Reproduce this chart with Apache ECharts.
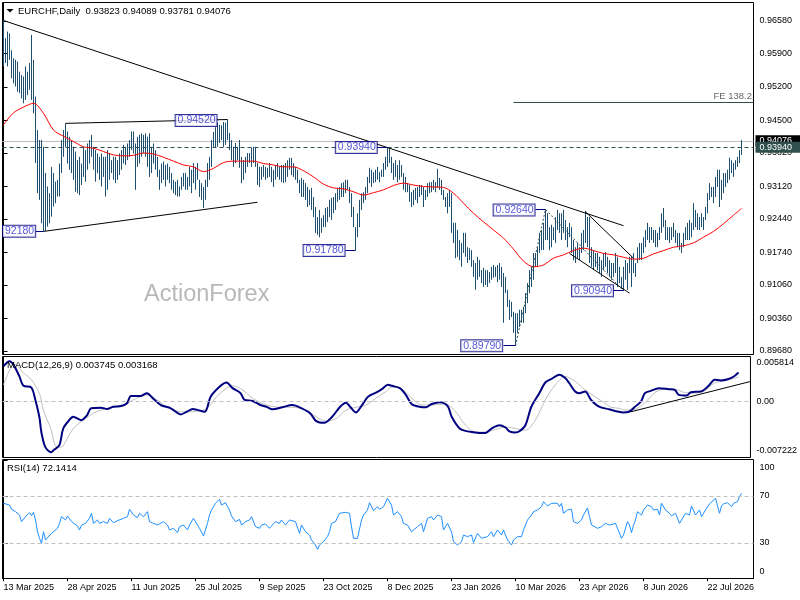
<!DOCTYPE html>
<html><head><meta charset="utf-8">
<script src="https://cdn.jsdelivr.net/npm/echarts@6/dist/echarts.min.js"></script>
<style>html,body{margin:0;padding:0;background:#fff}#c{width:800px;height:600px}</style>
</head><body><div id="c"></div>
<script>
// ---------- DATA (prices in 0.0001 units) ----------
const symbolName = 'EURCHF,Daily';
const lastOHLC = [0.93823, 0.94089, 0.93781, 0.94076];
const macdLast = [0.003745, 0.003168];
const rsiLast = 72.1414;

const barHigh = [
9659,9622,9636,9632,9597,9580,9577,9573,9552,9545,
9542,9563,9552,9570,9629,9577,9500,9430,9409,9409,
9395,9340,9312,9298,9353,9340,9322,9326,9360,9409,
9430,9444,9427,9416,9409,9395,9385,9367,9374,9360,
9395,9388,9402,9409,9420,9395,9388,9381,9374,9381,
9374,9374,9388,9381,9367,9374,9374,9367,9381,9388,
9399,9395,9402,9409,9427,9427,9402,9416,9420,9423,
9420,9423,9416,9423,9395,9402,9388,9374,9347,9360,
9364,9357,9360,9353,9340,9326,9322,9326,9312,9332,
9340,9340,9332,9353,9347,9361,9353,9361,9326,9319,
9311,9326,9361,9374,9409,9426,9436,9445,9441,9440,
9447,9445,9452,9424,9409,9395,9403,9395,9409,9374,
9367,9374,9382,9382,9393,9395,9395,9361,9353,9353,
9357,9353,9351,9361,9353,9347,9357,9361,9353,9357,
9357,9361,9367,9372,9372,9361,9353,9347,9326,9330,
9326,9319,9311,9305,9309,9290,9269,9248,9263,9246,
9252,9267,9269,9284,9288,9290,9298,9309,9311,9319,
9321,9326,9326,9311,9298,9269,9227,9256,9284,9298,
9300,9311,9332,9351,9347,9342,9347,9353,9342,9347,
9361,9374,9394,9393,9374,9361,9367,9357,9367,9357,
9340,9332,9319,9315,9300,9305,9309,9311,9315,9315,
9311,9305,9319,9321,9321,9326,9321,9349,9330,9326,
9305,9290,9298,9305,9298,9236,9236,9221,9200,9194,
9215,9215,9185,9183,9179,9158,9152,9165,9158,9137,
9142,9137,9137,9133,9144,9148,9144,9148,9152,9144,
9131,9123,9096,9075,9071,9050,9047,9047,9054,9054,
9060,9089,9110,9137,9144,9173,9173,9185,9215,9221,
9236,9264,9256,9227,9232,9227,9248,9263,9256,9256,
9263,9242,9227,9236,9227,9200,9185,9194,9185,9215,
9221,9261,9248,9248,9185,9179,9173,9173,9165,9158,
9173,9175,9165,9158,9152,9152,9173,9165,9144,9123,
9144,9158,9152,9165,9165,9173,9152,9185,9194,9194,
9206,9221,9236,9227,9227,9221,9221,9215,9227,9256,
9267,9242,9227,9227,9227,9236,9221,9215,9215,9194,
9215,9227,9236,9242,9236,9277,9263,9256,9248,9256,
9248,9269,9298,9319,9311,9311,9332,9347,9347,9326,
9340,9340,9347,9372,9367,9361,9367,9374,9388,9408.9];

const barLow = [
9563,9570,9563,9577,9538,9528,9521,9510,9507,9496,
9486,9493,9503,9514,9493,9465,9361,9298,9284,9235,
9218,9219,9228,9235,9249,9270,9277,9291,9291,9340,
9374,9395,9360,9347,9340,9326,9301,9298,9294,9315,
9332,9322,9347,9360,9374,9347,9322,9340,9326,9312,
9332,9291,9305,9326,9340,9326,9319,9326,9336,9347,
9360,9357,9367,9374,9388,9381,9305,9353,9360,9374,
9381,9374,9353,9332,9340,9360,9347,9332,9305,9319,
9326,9312,9326,9319,9305,9298,9294,9291,9291,9305,
9312,9305,9305,9312,9298,9319,9305,9326,9290,9284,
9267,9284,9311,9326,9353,9395,9393,9395,9403,9409,
9395,9399,9409,9388,9367,9353,9361,9367,9351,9319,
9326,9340,9353,9361,9353,9361,9353,9315,9311,9326,
9332,9326,9330,9332,9321,9311,9326,9332,9326,9321,
9319,9321,9332,9347,9336,9332,9326,9319,9298,9290,
9290,9284,9269,9273,9263,9248,9215,9211,9206,9215,
9227,9227,9238,9248,9242,9256,9263,9280,9284,9290,
9290,9298,9305,9277,9248,9227,9178,9206,9227,9263,
9277,9284,9298,9319,9311,9319,9321,9326,9321,9332,
9332,9347,9353,9361,9340,9326,9332,9321,9326,9332,
9305,9300,9300,9280,9269,9273,9284,9277,9290,9294,
9269,9284,9290,9298,9300,9305,9300,9309,9305,9294,
9284,9269,9256,9269,9215,9194,9162,9165,9158,9144,
9173,9165,9152,9158,9144,9123,9096,9117,9123,9110,
9102,9106,9102,9110,9117,9121,9123,9112,9117,9102,
9027,9089,9060,9033,9039,9006,8979,9006,9018,9027,
9027,9047,9068,9089,9102,9117,9144,9144,9173,9179,
9179,9200,9200,9179,9185,9200,9194,9221,9215,9200,
9215,9200,9185,9206,9173,9158,9152,9162,9158,9173,
9179,9194,9185,9152,9144,9137,9144,9137,9131,9123,
9137,9144,9131,9123,9117,9123,9131,9102,9110,9100,
9094,9117,9096,9131,9102,9131,9123,9152,9158,9158,
9173,9185,9200,9194,9200,9194,9185,9185,9200,9215,
9227,9200,9200,9194,9200,9206,9194,9185,9179,9173,
9185,9200,9200,9200,9206,9221,9227,9221,9221,9227,
9221,9242,9256,9284,9290,9277,9290,9311,9269,9284,
9298,9311,9319,9326,9340,9332,9347,9353,9361,9378.1];

// moving average (bar index, price in 0.0001)
const maLine = [[0,9441],[5,9466],[10,9478],[15,9486],[20,9465],[25,9430],[30,9417],[35,9406],[40,9395],[45,9392],[50,9385],[55,9378],[60,9376],[65,9377],[70,9382],[75,9380],[80,9373],[85,9365],[90,9357],[95,9353],[100,9343],[105,9350],[110,9362],[115,9365],[120,9365],[125,9365],[130,9360],[135,9357],[140,9353],[145,9353],[150,9345],[155,9332],[160,9317],[165,9309],[170,9307],[175,9301],[180,9294],[185,9299],[190,9305],[195,9314],[200,9319],[205,9315],[210,9312],[215,9311],[220,9310],[225,9298],[230,9277],[235,9256],[240,9238],[245,9221],[250,9204],[255,9181],[260,9156],[265,9144],[270,9148],[275,9162],[280,9169],[285,9178],[290,9183],[295,9178],[300,9172],[305,9169],[310,9164],[315,9160],[320,9162],[325,9171],[330,9178],[335,9185],[340,9188],[345,9194],[350,9206],[355,9218],[360,9234],[365,9252],[369,9266]];

// MACD main and signal (bar index, value in 0.0001)
const macdMain = [[0,45.5],[3,52.0],[5,47.7],[8,32.4],[10,20.3],[14,18.1],[16,2.0],[18,-19.7],[19,-39.3],[21,-58.8],[24,-65.3],[25,-63.1],[28,-56.6],[30,-34.8],[33,-24.0],[35,-19.7],[39,-24.0],[42,-17.5],[44,-8.7],[49,-7.9],[52,-9.7],[55,-6.7],[59,-5.8],[62,-2.2],[64,7.3],[69,7.3],[72,10.8],[75,4.3],[79,-4.5],[84,-8.7],[89,-16.6],[92,-13.2],[95,-9.7],[101,-13.2],[104,6.3],[109,20.3],[112,24.6],[115,17.3],[119,10.8],[121,2.0],[125,0.7],[129,-4.5],[132,-6.7],[135,-10.0],[140,-7.4],[145,-4.5],[149,-7.9],[154,-15.3],[157,-25.3],[161,-27.5],[165,-19.7],[169,-6.7],[172,-1.5],[174,-6.7],[177,-14.0],[180,-4.5],[183,6.3],[187,11.6],[190,16.0],[193,21.6],[195,20.3],[199,17.3],[202,8.6],[205,-3.5],[209,-6.7],[212,-7.4],[215,-3.2],[219,-0.9],[223,-5.8],[225,-19.7],[229,-34.8],[232,-37.9],[235,-39.3],[239,-40.6],[242,-40.6],[245,-34.8],[249,-30.6],[252,-33.5],[254,-38.4],[257,-40.0],[259,-38.4],[262,-30.6],[265,-6.7],[269,10.8],[272,24.6],[275,29.1],[279,34.6],[282,30.4],[284,23.9],[287,12.9],[289,10.8],[292,12.9],[295,2.0],[299,-6.7],[304,-10.0],[309,-13.2],[311,-14.0],[314,-13.2],[317,-6.7],[320,-0.2],[322,10.8],[325,13.8],[329,17.3],[334,16.0],[337,15.1],[339,8.6],[343,7.7],[345,12.1],[350,12.9],[354,20.3],[357,28.1],[360,27.2],[364,29.1],[367,33.0],[369,37.45]];
const macdSignal = [[0,21.6],[4,45.5],[6,47.7],[10,36.9],[14,28.1],[18,10.8],[20,-11.0],[24,-37.1],[26,-56.6],[29,-58.8],[32,-47.9],[35,-34.8],[40,-24.0],[45,-15.3],[50,-10.0],[55,-7.4],[60,-5.8],[65,2.0],[72,8.6],[77,2.0],[82,-6.7],[89,-13.2],[95,-13.2],[102,-8.7],[107,6.3],[112,17.3],[115,20.3],[120,15.1],[125,4.3],[132,-4.5],[139,-7.4],[145,-7.4],[152,-11.0],[157,-19.7],[162,-25.3],[167,-21.8],[172,-11.0],[177,-7.4],[182,-4.5],[187,4.3],[192,12.9],[195,18.6],[200,16.0],[205,4.3],[210,-4.5],[215,-4.5],[222,-3.2],[227,-13.2],[232,-30.6],[237,-39.3],[242,-39.3],[247,-36.1],[252,-32.8],[257,-34.8],[262,-37.1],[267,-24.0],[272,2.0],[277,21.6],[282,32.4],[287,26.0],[292,15.1],[297,6.3],[302,-2.2],[305,-7.4],[309,-8.7],[312,-11.0],[317,-10.0],[322,-1.5],[327,11.6],[332,16.0],[337,16.0],[342,11.6],[347,10.8],[352,14.2],[357,23.9],[362,27.2],[367,30.0],[369,31.68]];

// RSI(14) (bar index, value)
const rsiLine = [[0,63.8],[1,65.2],[3,62.3],[4,58.7],[6,56.7],[8,53.8],[9,48.2],[11,52.4],[13,55.8],[14,53.3],[15,56.1],[16,49.6],[17,39.6],[18,34.0],[19,29.7],[20,39.6],[21,32.6],[22,34.0],[24,38.2],[25,39.6],[27,42.5],[28,46.7],[29,52.4],[31,49.6],[32,53.0],[34,48.2],[35,46.7],[37,44.5],[38,41.1],[39,45.3],[41,46.7],[43,51.0],[44,55.3],[45,46.7],[47,49.6],[48,46.7],[50,48.2],[52,46.7],[53,51.0],[55,47.3],[57,49.0],[58,48.2],[60,51.0],[62,52.4],[63,58.7],[65,53.8],[67,51.6],[68,55.3],[70,52.4],[72,56.7],[73,48.2],[75,46.7],[77,45.3],[78,46.7],[80,48.2],[82,45.3],[83,41.1],[85,42.5],[87,38.8],[88,43.9],[90,45.3],[92,41.1],[93,45.3],[95,51.0],[97,45.3],[98,42.5],[100,36.0],[102,46.7],[103,53.8],[104,58.1],[106,63.8],[108,67.2],[109,62.3],[111,64.3],[113,58.1],[114,53.0],[116,48.2],[118,50.1],[119,45.3],[121,48.2],[123,49.6],[124,52.4],[126,43.9],[128,42.5],[129,45.3],[131,46.2],[133,42.5],[134,44.5],[136,48.2],[138,46.7],[139,49.6],[141,45.3],[143,49.6],[144,51.0],[146,48.2],[148,38.2],[149,45.3],[151,39.6],[153,36.8],[154,32.6],[156,28.3],[157,24.6],[158,28.3],[160,31.1],[162,35.4],[163,39.6],[164,46.7],[166,48.2],[168,55.3],[169,56.1],[171,56.1],[173,55.3],[174,43.9],[175,34.0],[177,34.0],[179,49.6],[180,53.8],[182,58.1],[183,64.3],[185,57.5],[187,60.9],[188,58.7],[190,60.9],[192,68.0],[194,62.3],[195,53.8],[197,56.7],[199,52.4],[200,46.7],[202,45.3],[204,39.6],[205,41.1],[207,43.9],[209,46.7],[210,39.6],[212,51.0],[214,52.4],[215,49.6],[217,53.8],[219,52.4],[220,41.1],[222,46.7],[224,39.6],[225,31.1],[227,28.3],[229,31.1],[230,36.8],[232,35.4],[234,36.8],[235,30.3],[237,38.2],[239,34.0],[240,32.6],[242,35.4],[244,39.6],[245,35.4],[247,41.1],[249,36.8],[250,41.1],[252,32.6],[253,34.0],[254,28.3],[255,32.6],[257,35.4],[259,35.4],[260,41.1],[262,49.6],[264,53.8],[265,56.7],[267,58.1],[269,60.9],[270,65.2],[272,61.5],[274,63.8],[275,62.3],[277,63.8],[278,60.9],[279,63.8],[280,55.3],[282,58.1],[284,58.7],[285,48.2],[287,46.7],[289,49.6],[290,53.8],[292,59.8],[293,52.4],[294,45.3],[295,44.5],[297,42.5],[299,43.9],[301,46.7],[303,45.3],[306,46.7],[307,42.5],[308,41.1],[309,34.0],[310,36.8],[312,48.2],[313,45.3],[314,38.8],[315,45.3],[316,49.6],[317,56.7],[319,53.8],[320,58.1],[322,62.3],[324,60.9],[325,58.1],[327,58.7],[328,53.8],[329,63.8],[331,58.1],[333,55.3],[334,53.0],[336,55.3],[338,46.7],[339,49.6],[341,55.3],[343,53.8],[344,61.5],[346,53.8],[348,58.1],[349,52.4],[351,58.1],[353,63.3],[354,64.3],[356,68.0],[358,55.3],[359,61.5],[360,63.3],[362,64.3],[364,60.9],[365,63.8],[367,65.2],[368,69.5],[369,72.14]];

// analyst drawings (bar index, price)
const trendLines = [
  [[0,0.9659],[310,0.9230]],
  [[31,0.9444],[112,0.9452]],
  [[20,0.9218],[127,0.9279]],
  [[291,0.9259],[315,0.9162]],
  [[283,0.9172],[313,0.9089]]
];
const fiboPath = [[256,0.8979],[271,0.9264],[310,0.9094]];
const feLevel = {from:255, to:375, price:0.9488, text:'FE 138.2'};
const macdTrend = [[315,-0.00132],[375,0.00259]];
const annText  = ['0.94520','92180','0.91780','0.93940','0.92640','0.89790','0.90940'];
const annIdx   = [96.3, 7.8, 160.3, 176.4, 255.3, 239.1, 294.5];
const annPrice = [0.9450, 0.92183, 0.91781, 0.93935, 0.92628, 0.8979, 0.9094];
const connectors = [[16,20,0.9218],[171,176,0.9178],[187,192,0.9394],[266,271,0.9264],[250,256,0.8979],[305,310,0.9094]];
const bidPrice = 0.94076;
const levelPrice = 0.93940;

// axis ticks
const priceTicks = [0.96580,0.95900,0.95200,0.94500,0.93820,0.93120,0.92440,0.91740,0.91060,0.90360,0.89680];
const xLabels = ['13 Mar 2025','28 Apr 2025','11 Jun 2025','25 Jul 2025','9 Sep 2025','23 Oct 2025','8 Dec 2025','23 Jan 2026','10 Mar 2026','23 Apr 2026','8 Jun 2026','22 Jul 2026'];
const xLabelStep = 32;
const macdMin = -0.007222, macdMax = 0.005814;
const rsiTicks = [0,30,70,100];

// ---------- CHART ----------
const PIP = 1e-4;
const FONT = 'Liberation Sans, Arial, sans-serif';
const xMin = -0.5, xMax = 375;
const xTickVals = xLabels.map((_, k) => k * xLabelStep);
const chart = echarts.init(document.getElementById('c'));

const gridBase = {left: 2.5, right: 46.5, show: true, borderColor: '#000', borderWidth: 1, backgroundColor: 'transparent'};
const hiddenX = idx => ({gridIndex: idx, type: 'value', min: xMin, max: xMax, show: false});
const yBase = (idx, mn, mx, ticks, fmt) => ({
  gridIndex: idx, type: 'value', position: 'right', min: mn, max: mx,
  axisLine: {show: true, lineStyle: {color: '#000'}},
  axisTick: {show: true, length: 4, customValues: ticks, lineStyle: {color: '#000'}},
  axisLabel: {customValues: ticks, formatter: fmt, margin: 6, fontSize: 9, color: '#000', fontFamily: FONT,
    rich: {t: {padding: [13, 0, 0, 0]}, b: {padding: [0, 0, 13, 0]}}},
  splitLine: {show: false}
});

const near = (a, b) => Math.abs(a - b) < 1e-9;
const lineSeries = (coordsList, style, z, extra) => Object.assign({
  type: 'lines', coordinateSystem: 'cartesian2d', xAxisIndex: 0, yAxisIndex: 0, z: z, silent: true,
  data: coordsList.map(c => ({coords: c})),
  lineStyle: Object.assign({opacity: 1, width: 1}, style)
}, extra || {});
const tagSeries = (price, bg, z) => ({
  type: 'scatter', xAxisIndex: 0, yAxisIndex: 0, z: z, silent: true, clip: false, symbolSize: 1,
  itemStyle: {color: bg, opacity: 0},
  data: [{name: price.toFixed(5), value: [xMax, price]}],
  label: {show: true, position: 'right', distance: 1.5, formatter: '{b}', opacity: 1,
    rich: {p: {backgroundColor: bg, color: '#ffffff', padding: [1, 12, 1, 4], fontSize: 9, fontFamily: FONT}},
    backgroundColor: bg, color: '#ffffff', padding: [1, 12, 1, 4], fontSize: 9, fontFamily: FONT}
});

const option = {
  animation: false,
  backgroundColor: '#fff',
  grid: [
    Object.assign({top: 2.5, height: 352}, gridBase),
    Object.assign({top: 356.5, height: 101}, gridBase),
    Object.assign({top: 459.5, height: 119}, gridBase)
  ],
  xAxis: [hiddenX(0), hiddenX(1), {
    gridIndex: 2, type: 'value', min: xMin, max: xMax,
    axisLine: {show: true, lineStyle: {color: '#000'}},
    axisTick: {show: true, length: 3, customValues: xTickVals, lineStyle: {color: '#000'}},
    axisLabel: {customValues: xTickVals, formatter: v => xLabels[Math.round(v / xLabelStep)] || '',
      align: 'left', margin: 5, fontSize: 9, color: '#000', fontFamily: FONT},
    splitLine: {show: false}
  }],
  yAxis: [
    yBase(0, 0.896068, 0.969668, priceTicks, v => v.toFixed(5)),
    yBase(1, macdMin, macdMax, [macdMin, 0, macdMax], v => {
      if (near(v, 0)) return '0.00';
      if (near(v, macdMax)) return '{t|' + v.toFixed(6) + '}';
      return '{b|' + v.toFixed(6) + '}';
    }),
    yBase(2, -0.21, 101.06, rsiTicks, v => v === 100 ? '{t|100}' : (v === 0 ? '{b|0}' : String(v)))
  ],
  graphic: [
    {type: 'text', z: 0, x: 144, y: 295, style: {text: 'ActionForex', font: '23.5px ' + FONT, fill: '#b8b8b8', verticalAlign: 'middle', textVerticalAlign: 'middle'}},
    {type: 'polygon', z: 10, shape: {points: [[6.5, 9], [13.5, 9], [10, 12.5]]}, style: {fill: '#000'}},
    {type: 'text', z: 10, x: 18, y: 11, style: {text: symbolName + '  ' + lastOHLC.map(v => v.toFixed(5)).join(' '), font: '9.5px ' + FONT, fill: '#000', verticalAlign: 'middle', textVerticalAlign: 'middle'}},
    {type: 'text', z: 10, x: 7, y: 365.5, style: {text: 'MACD(12,26,9) ' + macdLast.map(v => v.toFixed(6)).join(' '), font: '9.5px ' + FONT, fill: '#000', verticalAlign: 'middle', textVerticalAlign: 'middle'}},
    {type: 'text', z: 10, x: 7, y: 468.5, style: {text: 'RSI(14) ' + rsiLast.toFixed(4), font: '9.5px ' + FONT, fill: '#000', verticalAlign: 'middle', textVerticalAlign: 'middle'}}
  ],
  series: [
    // bid line and level line
    lineSeries([[[xMin, bidPrice], [xMax, bidPrice]]], {color: '#c0c0c0'}, 2),
    lineSeries([[[xMin, levelPrice], [xMax, levelPrice]]], {color: '#2f4f4f', type: [4, 3]}, 2),
    {
      type: 'custom', xAxisIndex: 0, yAxisIndex: 0, z: 3, silent: true,
      data: barHigh.map((h, i) => [i, barLow[i] * PIP, h * PIP]),
      encode: {x: 0, y: [1, 2]},
      renderItem: (params, api) => {
        const x = api.value(0);
        const a = api.coord([x, api.value(2)]);
        const b = api.coord([x, api.value(1)]);
        return {type: 'line', shape: {x1: a[0], y1: a[1], x2: b[0], y2: b[1]}, style: {stroke: '#1e4f6e', lineWidth: 1}};
      }
    },
    {
      type: 'line', xAxisIndex: 0, yAxisIndex: 0, z: 4, silent: true, showSymbol: false, smooth: 0.3,
      data: maLine.map(([i, v]) => [i, v * PIP]),
      lineStyle: {color: '#ff0000', width: 1}
    },
    lineSeries(trendLines, {color: '#000'}, 5),
    lineSeries([fiboPath], {color: '#2f4f4f', type: [2, 2]}, 5, {polyline: true}),
    lineSeries([[[feLevel.from, feLevel.price], [feLevel.to, feLevel.price]]], {color: '#2f4f4f'}, 5),
    lineSeries(connectors.map(([a, b, p]) => [[a, p], [b, p]]), {color: '#000080'}, 5),
    {
      type: 'scatter', xAxisIndex: 0, yAxisIndex: 0, z: 6, silent: true, symbolSize: 1,
      itemStyle: {color: 'rgba(0,0,0,0)'},
      data: annText.map((t, k) => ({name: t, value: [annIdx[k], annPrice[k]]})),
      label: {show: true, position: 'inside', formatter: '{b}', color: '#2a2ad0', fontSize: 10.5, fontFamily: FONT,
        backgroundColor: '#fff', borderColor: '#000080', borderWidth: 1, padding: [1, 1, 0, 2], lineHeight: 10}
    },
    {
      type: 'scatter', xAxisIndex: 0, yAxisIndex: 0, z: 6, silent: true, clip: false, symbolSize: 1,
      itemStyle: {color: 'rgba(0,0,0,0)'},
      data: [{name: feLevel.text, value: [feLevel.to, feLevel.price]}],
      label: {show: true, position: 'left', distance: 1, offset: [0, -6], formatter: '{b}', color: '#404040', fontSize: 9.5, fontFamily: FONT}
    },
    // right-side price tags (bid first, level on top)
    tagSeries(bidPrice, '#000000', 7),
    tagSeries(levelPrice, '#2f4f4f', 8),
    {
      type: 'line', xAxisIndex: 1, yAxisIndex: 1, z: 3, silent: true, showSymbol: false, smooth: 0.3,
      data: macdSignal.map(([i, v]) => [i, v * PIP]),
      lineStyle: {color: '#c0c0c0', width: 1},
      markLine: {silent: true, symbol: ['none', 'none'], label: {show: false},
        data: [{yAxis: 0}], lineStyle: {color: '#c0c0c0', type: [4, 3], width: 1}}
    },
    {
      type: 'line', xAxisIndex: 1, yAxisIndex: 1, z: 4, silent: true, showSymbol: false, smooth: 0.3,
      data: macdMain.map(([i, v]) => [i, v * PIP]),
      lineStyle: {color: '#000080', width: 2}
    },
    lineSeries([macdTrend], {color: '#000'}, 5, {xAxisIndex: 1, yAxisIndex: 1}),
    {
      type: 'line', xAxisIndex: 2, yAxisIndex: 2, z: 4, silent: true, showSymbol: false,
      data: rsiLine,
      lineStyle: {color: '#1e90ff', width: 1},
      markLine: {silent: true, symbol: ['none', 'none'], label: {show: false},
        data: [{yAxis: 70}, {yAxis: 30}], lineStyle: {color: '#c0c0c0', type: [4, 3], width: 1}}
    }
  ]
};
chart.setOption(option);
</script>
</body></html>
